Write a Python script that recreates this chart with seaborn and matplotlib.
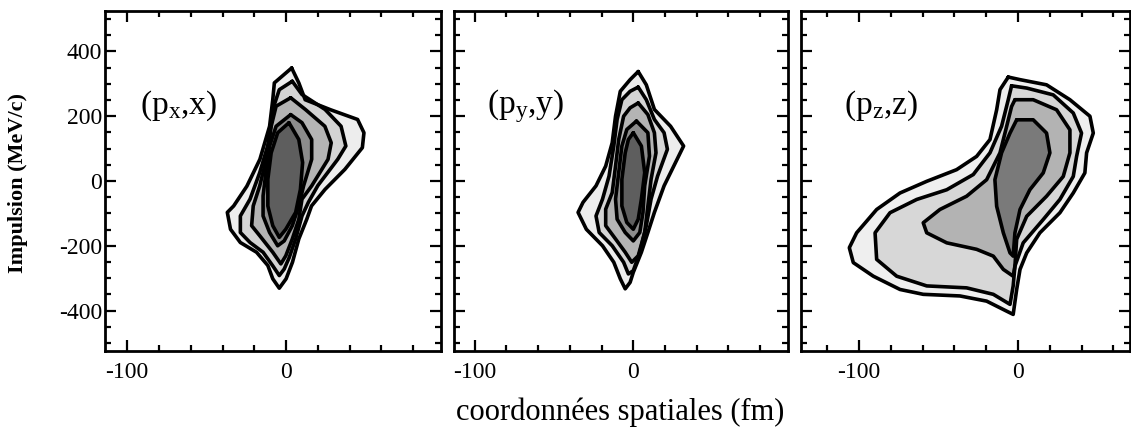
import matplotlib
matplotlib.use("Agg")
import matplotlib.pyplot as plt
from matplotlib.ticker import MultipleLocator, FixedLocator
import seaborn as sns

# ---- contour levels of the phase-space distributions, outer -> inner, as (position fm, momentum MeV/c)
PX_L1 = [(3.5, 349), (8, 303), (12, 251), (28, 220), (45, 190), (49, 149), (48, 103), (37, 36),
         (24.5, -26), (16, -77), (13, -118), (8, -179), (4, -251), (0, -302), (-4.3, -331),
         (-8.4, -302), (-11.5, -261), (-18.6, -220), (-28.8, -190), (-35, -149), (-37, -97),
         (-33, -77), (-24.7, -16), (-16.5, 67), (-10.4, 169), (-8.4, 251), (-7.4, 303)]
PX_L2 = [(3.9, 308), (10, 267), (24.5, 221), (34.6, 169), (37.6, 108), (32.5, 67), (20, -14),
         (14, -66), (10, -108), (6, -179), (2, -236), (-1.2, -272), (-4.3, -292), (-8.4, -262),
         (-14.5, -220), (-22.7, -190), (-28.8, -159), (-28.8, -108), (-22.7, -56), (-16.6, 26),
         (-10.4, 128), (-8.4, 221), (-4.3, 282)]
PX_L3 = [(2.9, 257), (12.1, 221), (24.4, 169), (28.4, 118), (26.4, 67), (16.1, -15), (10, -56),
         (8, -118), (3.9, -179), (-0.2, -231), (-3.3, -256), (-8.4, -220), (-16.6, -169),
         (-21.7, -138), (-20.7, -77), (-16.6, -15), (-12.5, 67), (-10.4, 149), (-6.3, 231)]
PX_L4 = [(2.9, 205), (10, 180), (16.1, 128), (16.1, 67), (11, -15), (8, -77), (3.9, -138),
         (-1.2, -185), (-5.3, -200), (-10.4, -159), (-14.5, -108), (-14.5, -46), (-12.5, 36),
         (-10.4, 108), (-6.3, 169)]
PX_L5 = [(1.8, 180), (8, 128), (10.4, 57), (9, -26), (6, -97), (-0.2, -149), (-4.3, -174),
         (-8.4, -138), (-11.5, -77), (-11.5, 5), (-9.4, 87), (-5.3, 149)]

PY_L1 = [(3.1, 338), (8.2, 297), (13.3, 221), (23.5, 169), (31.7, 108), (27.6, 67), (19.4, -15),
         (13.3, -97), (9.2, -159), (5.1, -220), (0, -282), (-2, -313), (-5.1, -333), (-8.2, -302),
         (-12.3, -251), (-19.4, -200), (-29.6, -149), (-34.8, -97), (-31.7, -66), (-23.5, -15),
         (-17.4, 46), (-13.3, 118), (-11.2, 200), (-8.2, 277), (-2, 313)]
PY_L2 = [(3.1, 290), (8.2, 251), (13.3, 190), (19.4, 149), (21.5, 98), (15.3, 15), (11.2, -56),
         (8.2, -138), (4.1, -220), (0, -277), (-3.1, -287), (-6.1, -251), (-13.3, -200),
         (-21.5, -159), (-23.5, -108), (-19.4, -56), (-15.3, 15), (-12.3, 108), (-10.2, 190),
         (-7.2, 251), (-2, 277)]
PY_L3 = [(3.1, 241), (9.2, 205), (13.3, 149), (14.3, 87), (11.2, 5), (9.2, -77), (7.2, -159),
         (3.1, -231), (-1, -251), (-5.1, -220), (-11.2, -179), (-17.4, -138), (-17.4, -87),
         (-13.3, -36), (-11.2, 46), (-9.2, 128), (-6.1, 200), (-2, 226)]
PY_L4 = [(2, 185), (9.2, 149), (10.2, 77), (7.2, -15), (6.1, -97), (4.1, -159), (0, -185),
         (-5.1, -159), (-10.2, -118), (-11.2, -56), (-9.2, 26), (-7.2, 108), (-4.1, 159)]
PY_L5 = [(0, 149), (5.1, 108), (7.2, 26), (5.1, -56), (3.1, -118), (0, -149), (-4.1, -128),
         (-7.2, -77), (-7.2, 5), (-5.1, 87), (-3.1, 128)]

PZ_L1 = [(-6.1, 321), (1.3, 313), (18, 297), (32.7, 251), (45.3, 200), (47.4, 148), (43.2, 87),
         (42.1, 25), (34.8, -37), (26.4, -98), (13.8, -160), (5.5, -222), (1.3, -273),
         (-0.8, -335), (-3, -412), (-7.1, -402), (-19.7, -371), (-36.5, -355), (-59.6, -350),
         (-74.2, -335), (-91, -294), (-103.6, -252), (-106.1, -206), (-101.5, -160),
         (-88.9, -88), (-74.2, -37), (-57.4, -1), (-38.6, 35), (-26, 76), (-17.6, 128),
         (-13.4, 220), (-11.3, 282)]
PZ_L2 = [(-4, 294), (5.5, 287), (22.2, 266), (34.8, 210), (40, 148), (36.9, 76), (34.8, 14),
         (26.4, -57), (15.9, -119), (3.3, -191), (-1.9, -263), (-3, -324), (-5, -381),
         (-15.5, -350), (-32.3, -330), (-57.4, -324), (-76.3, -294), (-88.9, -242),
         (-89.9, -160), (-80.5, -98), (-63.7, -57), (-44.8, -27), (-28.1, 20), (-17.6, 87),
         (-10.3, 169), (-6.1, 251)]
PZ_L3 = [(-1.9, 251), (9.6, 251), (24.3, 220), (32.7, 158), (32.7, 87), (28.5, 14), (18, -47),
         (5.5, -109), (-0.8, -180), (-1.9, -263), (-3, -294), (-9.2, -273), (-15.5, -232),
         (-26, -211), (-44.8, -191), (-57.4, -160), (-59.6, -129), (-49.1, -88), (-32.3, -47),
         (-19.7, 4), (-11.3, 87), (-7.1, 169), (-4, 230)]
PZ_L4 = [(-0.8, 189), (9.6, 189), (18, 148), (20.1, 87), (15.9, 25), (7.5, -27), (1.3, -88),
         (-1.9, -160), (-3, -232), (-5, -222), (-9.2, -160), (-13.4, -78), (-14.5, 4),
         (-10.3, 87), (-5, 148)]

PANEL_LABELS = [r"(p$_\mathrm{x}$,x)", r"(p$_\mathrm{y}$,y)", r"(p$_\mathrm{z}$,z)"]
PANEL_LEVELS = [[PX_L1, PX_L2, PX_L3, PX_L4, PX_L5],
                [PY_L1, PY_L2, PY_L3, PY_L4, PY_L5],
                [PZ_L1, PZ_L2, PZ_L3, PZ_L4]]
X_LIMITS = [(-114, 97.5), (-113, 97.5), (-136.5, 70.5)]
Y_TICKS = [-400, -200, 0, 200, 400]
X_TICKS = [-100, 0]

SHADES_5 = ["#ededed", "#d4d4d4", "#b4b4b4", "#8c8c8c", "#5e5e5e"]
SHADES_4 = ["#efefef", "#d7d7d7", "#b3b3b3", "#7a7a7a"]

sns.set_theme(style="ticks")
plt.rcParams["font.family"] = ["Liberation Serif", "DejaVu Serif"]
plt.rcParams["mathtext.fontset"] = "custom"
plt.rcParams["mathtext.rm"] = "Liberation Serif"
plt.rcParams["mathtext.it"] = "Liberation Serif:italic"
plt.rcParams["axes.unicode_minus"] = False

W, H = 1131, 434
fig = plt.figure(figsize=(W / 100, H / 100), dpi=100)
boxes = [(105, 336), (454, 334), (801, 329)]
top_px, bot_px = 11, 351
label_pos = [(0.105, 0.72), (0.098, 0.72), (0.13, 0.72)]

for i, (left, width) in enumerate(boxes):
    ax = fig.add_axes([left / W, (H - bot_px) / H, width / W, (bot_px - top_px) / H])
    levels = PANEL_LEVELS[i]
    shades = SHADES_5 if len(levels) == 5 else SHADES_4
    for k, (poly, shade) in enumerate(zip(levels, shades)):
        xs = [p[0] for p in poly]
        ps = [p[1] for p in poly]
        ax.fill(xs, ps, facecolor=shade, edgecolor="none", zorder=1 + k)
    for k, poly in enumerate(levels):
        xs = [p[0] for p in poly] + [poly[0][0]]
        ps = [p[1] for p in poly] + [poly[0][1]]
        sns.lineplot(x=xs, y=ps, sort=False, estimator=None, color="black",
                     linewidth=2.6, ax=ax, zorder=10)
    for ln in ax.lines:
        ln.set_solid_joinstyle("round")
        ln.set_solid_capstyle("round")

    ax.set_xlim(*X_LIMITS[i])
    ax.set_ylim(-525, 525)
    ax.set_xlabel("")
    ax.set_ylabel("")
    ax.xaxis.set_major_locator(FixedLocator(X_TICKS))
    ax.xaxis.set_minor_locator(MultipleLocator(20))
    ax.yaxis.set_major_locator(FixedLocator(Y_TICKS))
    ax.yaxis.set_minor_locator(MultipleLocator(50))
    ax.set_xticklabels([str(v) for v in X_TICKS])
    if i == 0:
        ax.set_yticklabels([str(v) for v in Y_TICKS])
    else:
        ax.set_yticklabels([])
    ax.tick_params(which="both", direction="in", top=True, right=True,
                   color="black", labelcolor="black", labelsize=17)
    ax.tick_params(which="major", length=8, width=1.6)
    ax.tick_params(which="minor", length=4.5, width=1.6)
    ax.tick_params(axis="x", which="major", pad=8)
    ax.tick_params(axis="y", which="major", pad=2)
    for sp in ax.spines.values():
        sp.set_visible(True)
        sp.set_color("black")
        sp.set_linewidth(2.0)
    ax.set_facecolor("white")
    ax.text(label_pos[i][0], label_pos[i][1], PANEL_LABELS[i], transform=ax.transAxes,
            fontsize=24, ha="left", va="center", color="black", zorder=20)

fig.text(18 / W, 1 - 183 / H, "Impulsion (MeV/c)", rotation=90, ha="center", va="center",
         fontsize=16, fontweight="bold", color="black")
fig.text(620 / W, 1 - 412 / H, "coordonnées spatiales (fm)", ha="center", va="center",
         fontsize=22, color="black")

fig.savefig("out.png", dpi=100, facecolor="white")
